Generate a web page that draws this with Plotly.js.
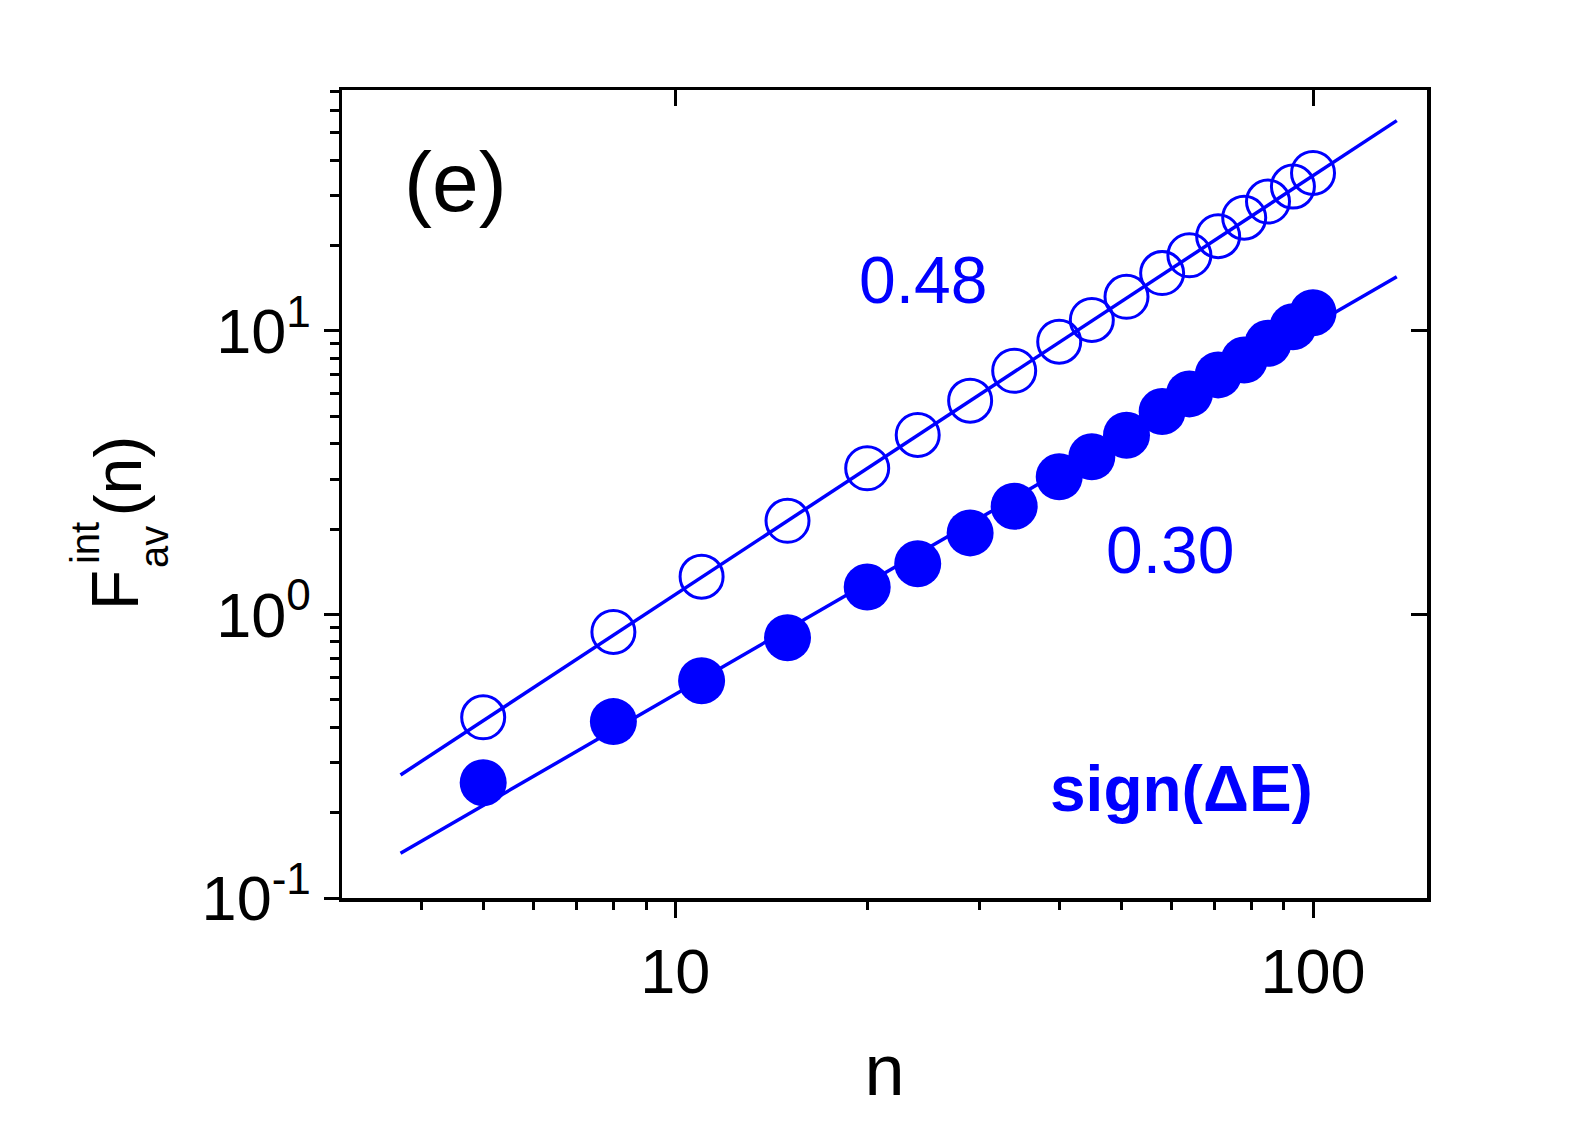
<!DOCTYPE html>
<html>
<head>
<meta charset="utf-8">
<script src="https://cdn.plot.ly/plotly-3.0.1.min.js"></script>
<style>
  html, body { margin: 0; padding: 0; background: #fff; }
  #chart { width: 1590px; height: 1125px; }
</style>
</head>
<body>
<div id="chart"></div>
<script>
// window sizes n
const nValues = [5, 8, 11, 15, 20, 24, 29, 34, 40, 45, 51, 58, 64, 71, 78, 85, 93, 100];

// open circles (upper set)
const fOpen = [0.434, 0.868, 1.36, 2.14, 3.28, 4.30, 5.68, 7.24, 9.17, 10.94,
               13.2, 16.0, 18.5, 21.6, 25.1, 28.6, 32.3, 36.1];

// filled circles (sign(dE) set)
const fFilled = [0.255, 0.419, 0.584, 0.828, 1.25, 1.51, 1.94, 2.41, 3.06, 3.60,
                 4.29, 5.2, 6.0, 7.0, 7.9, 9.05, 10.35, 11.6];

// fitted power-law lines, end points
const fitN = [3.71, 135.3];
const fitOpen = [0.2716, 55.2];
const fitFilled = [0.1438, 15.54];

// axis ticks
const xTickVals = [10, 100];
const xTickText = ['10', '100'];
const xMinorVals = [4, 5, 6, 7, 8, 9, 20, 30, 40, 50, 60, 70, 80, 90];
const yTickVals = [0.1, 1, 10];
const yTickText = ['10<sup>-1</sup>', '10<sup>0</sup>', '10<sup>1</sup>'];
const yMinorVals = [0.2, 0.3, 0.4, 0.5, 0.6, 0.7, 0.8, 0.9, 2, 3, 4, 5, 6, 7, 8, 9, 20, 30, 40, 50, 60, 70];
const rightTickVals = [1, 10];

const xRange = [0.4776, 2.1787];
const yRange = [-1, 1.85];

const blue = '#0000ff';
const font = 'Arial, "Liberation Sans", sans-serif';

const traces = [
    {
        x: nValues, y: fOpen, mode: 'markers', type: 'scatter',
        marker: { symbol: 'circle-open', size: 43, color: blue, line: { width: 3, color: blue } }
    },
    {
        x: nValues, y: fFilled, mode: 'markers', type: 'scatter',
        marker: { symbol: 'circle', size: 47, color: blue, line: { width: 0 } }
    },
    // fit lines live on the overlay axes (same ranges) so the top/right ticks get drawn
    {
        x: fitN, y: fitOpen, mode: 'lines', type: 'scatter', xaxis: 'x2', yaxis: 'y2',
        line: { color: blue, width: 3.5 }, hoverinfo: 'skip'
    },
    {
        x: fitN, y: fitFilled, mode: 'lines', type: 'scatter', xaxis: 'x2', yaxis: 'y2',
        line: { color: blue, width: 3.5 }, hoverinfo: 'skip'
    }
];

// y title built from pieces so the sub/superscript stack like the original
const titleFont = { family: font, size: 66, color: '#000' };
const annotations = [
    { text: 'F', x: -0.2089, y: 0.3812, font: titleFont },
    { text: 'int', x: -0.2368, y: 0.4394, font: { family: font, size: 40, color: '#000' } },
    { text: 'av', x: -0.1732, y: 0.4344, font: { family: font, size: 40, color: '#000' } },
    { text: '(n)', x: -0.2061, y: 0.5223, font: titleFont }
].map(a => ({ ...a, textangle: -90 }));

annotations.push(
    { text: '(e)', x: 0.1044, y: 0.8865, font: { family: font, size: 84, color: '#000' } },
    { text: '0.48', x: 0.5356, y: 0.7649, font: { family: font, size: 66, color: blue } },
    { text: '0.30', x: 0.7630, y: 0.4307, font: { family: font, size: 66, color: blue } },
    { text: '<b>sign(ΔE)</b>', x: 0.7740, y: 0.135, font: { family: font, size: 64, color: blue } }
);

annotations.forEach(a => {
    a.xref = 'paper';
    a.yref = 'paper';
    a.showarrow = false;
    a.xanchor = 'center';
    a.yanchor = 'middle';
});

const layout = {
    width: 1590,
    height: 1125,
    plot_bgcolor: '#ffffff',
    paper_bgcolor: '#ffffff',
    font: { family: font, color: '#000' },
    margin: { l: 342, r: 163, t: 90, b: 227 },
    showlegend: false,
    xaxis: {
        type: 'log',
        range: xRange,
        showgrid: false,
        zeroline: false,
        showline: true, linecolor: '#000', linewidth: 3.5, mirror: true,
        ticks: 'outside', ticklen: 16, tickwidth: 3, tickcolor: '#000',
        tickmode: 'array', tickvals: xTickVals, ticktext: xTickText,
        tickfont: { family: font, size: 63 },
        minor: { ticks: 'outside', ticklen: 8, tickwidth: 3, tickcolor: '#000', tickmode: 'array', tickvals: xMinorVals },
        title: { text: 'n', font: { family: font, size: 72 }, standoff: 40 }
    },
    yaxis: {
        type: 'log',
        range: yRange,
        showgrid: false,
        zeroline: false,
        showline: true, linecolor: '#000', linewidth: 3.5, mirror: true,
        ticks: 'outside', ticklen: 15, tickwidth: 3, tickcolor: '#000',
        tickmode: 'array', tickvals: yTickVals, ticktext: yTickText,
        tickfont: { family: font, size: 63 },
        minor: { ticks: 'outside', ticklen: 9, tickwidth: 3, tickcolor: '#000', tickmode: 'array', tickvals: yMinorVals }
    },
    // inward major ticks on the top and right edges
    xaxis2: {
        type: 'log', overlaying: 'x', side: 'top', anchor: 'y2',
        range: xRange,
        showgrid: false, zeroline: false, showline: false,
        ticks: 'inside', ticklen: 16, tickwidth: 3, tickcolor: '#000',
        tickmode: 'array', tickvals: xTickVals, showticklabels: false
    },
    yaxis2: {
        type: 'log', overlaying: 'y', side: 'right', anchor: 'x2',
        range: yRange,
        showgrid: false, zeroline: false, showline: false,
        ticks: 'inside', ticklen: 16, tickwidth: 3, tickcolor: '#000',
        tickmode: 'array', tickvals: rightTickVals, showticklabels: false
    },
    annotations: annotations
};

Plotly.newPlot('chart', traces, layout, { displayModeBar: false, staticPlot: true });
</script>
</body>
</html>
